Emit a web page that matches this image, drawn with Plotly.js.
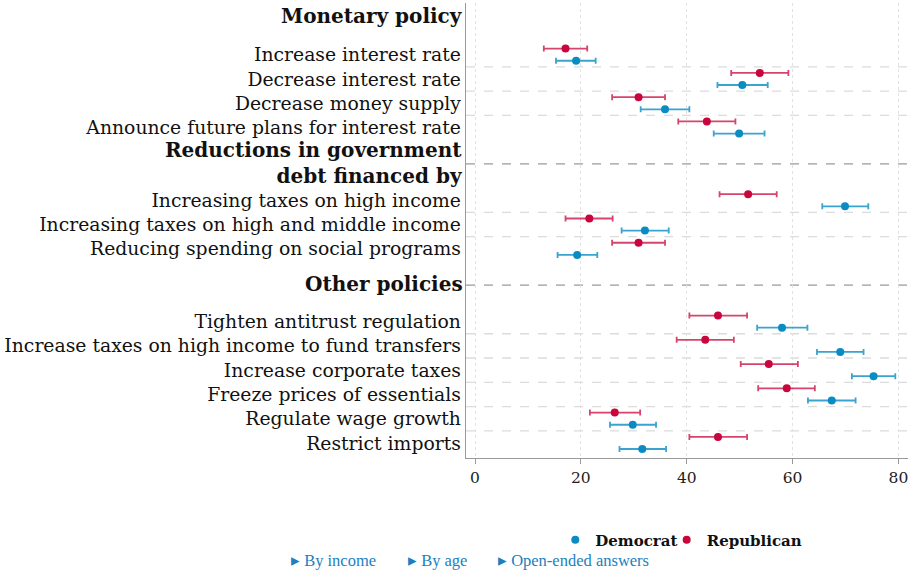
<!DOCTYPE html>
<html>
<head>
<meta charset="utf-8">
<script src="https://cdn.plot.ly/plotly-3.0.1.min.js"></script>
<style>
html,body{margin:0;padding:0;background:#fff;}
#chart{width:909px;height:571px;}
</style>
</head>
<body>
<div id="chart"></div>
<script>
// ---- data ----
const policyLabels = [
  "Increase interest rate",
  "Decrease interest rate",
  "Decrease money supply",
  "Announce future plans for interest rate",
  "Increasing taxes on high income",
  "Increasing taxes on high and middle income",
  "Reducing spending on social programs",
  "Tighten antitrust regulation",
  "Increase taxes on high income to fund transfers",
  "Increase corporate taxes",
  "Freeze prices of essentials",
  "Regulate wage growth",
  "Restrict imports"
];
const rowSlots = [0, 1, 2, 3, 6, 7, 8, 11, 12, 13, 14, 15, 16];

const sectionHeaders = ["Monetary policy", "Reductions in government<br>debt financed by", "Other policies"];
const sectionHeaderSlots = [-1.6, 4.47, 9.44];
const sectionBreaks = [4.5, 9.5];
const rowBreaks = [0.5, 1.5, 2.5, 6.5, 7.5, 11.5, 12.5, 13.5, 14.5, 15.5];

const demMean = [19.1, 50.5, 35.9, 49.9, 69.9, 32.1, 19.3, 58.0, 69.0, 75.3, 67.4, 29.8, 31.6];
const demLow  = [15.3, 45.8, 31.3, 45.1, 65.6, 27.7, 15.6, 53.3, 64.6, 71.2, 62.9, 25.5, 27.3];
const demHigh = [22.8, 55.3, 40.5, 54.7, 74.3, 36.6, 23.1, 62.8, 73.4, 79.4, 71.9, 34.2, 36.1];

const repMean = [17.1, 53.8, 30.9, 43.8, 51.6, 21.6, 30.9, 45.9, 43.5, 55.5, 58.9, 26.4, 45.9];
const repLow  = [13.0, 48.4, 25.9, 38.4, 46.2, 17.1, 25.9, 40.5, 38.1, 50.2, 53.5, 21.7, 40.5];
const repHigh = [21.2, 59.2, 35.9, 49.2, 57.0, 26.0, 35.9, 51.4, 48.9, 61.0, 64.2, 31.2, 51.4];

const xTicks = [0, 20, 40, 60, 80];
const linkTexts = ["▸ By income", "▸ By age", "▸ Open-ended answers"];

// ---- style ----
const DEM = "#0a8cc3", REP = "#c8053c";
const DEM_ERR = "rgba(10,140,195,0.8)", REP_ERR = "rgba(200,5,60,0.75)";
const OFF = 0.25;
const SERIF = "DejaVu Serif, serif";

function diff(a, b) { return a.map((v, i) => v - b[i]); }

const demTrace = {
  type: "scatter", mode: "markers", name: "<b>Democrat</b>", legend: "legend",
  x: demMean, y: rowSlots.map(s => s + OFF),
  marker: {color: DEM, size: 8},
  error_x: {type: "data", symmetric: false, array: diff(demHigh, demMean), arrayminus: diff(demMean, demLow),
            color: DEM_ERR, thickness: 1.8, width: 3},
  hoverinfo: "x"
};
const repTrace = {
  type: "scatter", mode: "markers", name: "<b>Republican</b>", legend: "legend2",
  x: repMean, y: rowSlots.map(s => s - OFF),
  marker: {color: REP, size: 8},
  error_x: {type: "data", symmetric: false, array: diff(repHigh, repMean), arrayminus: diff(repMean, repLow),
            color: REP_ERR, thickness: 1.8, width: 3},
  hoverinfo: "x"
};

const shapes = [];
rowBreaks.forEach(y => shapes.push({type: "line", xref: "paper", x0: 0, x1: 1, yref: "y", y0: y, y1: y,
  line: {color: "#dcdcdc", width: 1.3, dash: "dash"}, layer: "below"}));
sectionBreaks.forEach(y => shapes.push({type: "line", xref: "paper", x0: 0, x1: 1, yref: "y", y0: y, y1: y,
  line: {color: "#9a9a9a", width: 1.3, dash: "dash"}, layer: "below"}));

const annotations = [];
sectionHeaders.forEach((t, i) => annotations.push({
  text: "<b>" + t + "</b>", xref: "paper", x: 0, xanchor: "right", xshift: -1,
  yref: "y", y: sectionHeaderSlots[i], yanchor: "middle", align: "right",
  showarrow: false, font: {family: SERIF, size: 20, color: "#111"}
}));
const linkX = [-0.40, -0.135, 0.068];
linkTexts.forEach((t, i) => annotations.push({
  text: t, xref: "paper", x: linkX[i], xanchor: "left", yref: "paper", y: -0.226, yanchor: "middle",
  showarrow: false, font: {family: "Liberation Serif, serif", size: 16.5, color: "#1b7fc0"}
}));

const legendBase = {orientation: "h", xanchor: "left", y: -0.18, yanchor: "middle",
  font: {family: SERIF, size: 15, color: "#111"}, bgcolor: "rgba(0,0,0,0)"};

const layout = {
  width: 909, height: 571,
  margin: {l: 466, r: 1, t: 3, b: 113},
  paper_bgcolor: "#fff", plot_bgcolor: "#fff",
  showlegend: true,
  legend: Object.assign({}, legendBase, {x: 0.202}),
  legend2: Object.assign({}, legendBase, {x: 0.454}),
  xaxis: {range: [-1.7, 81.8], tickvals: xTicks, ticktext: xTicks.map(String),
          showgrid: true, gridcolor: "#e2e2e2", griddash: "dot", gridwidth: 1,
          zeroline: false, showline: true, linecolor: "#999", linewidth: 1.3,
          ticks: "outside", ticklen: 5, tickcolor: "#999",
          tickfont: {family: SERIF, size: 15.5, color: "#222"}},
  yaxis: {range: [16.62, -2.13], tickvals: rowSlots, ticktext: policyLabels,
          showgrid: false, zeroline: false, showline: true, linecolor: "#999", linewidth: 1.3,
          ticks: "", tickfont: {family: SERIF, size: 18.8, color: "#111"}},
  shapes: shapes,
  annotations: annotations
};

Plotly.newPlot("chart", [demTrace, repTrace], layout, {displayModeBar: false, staticPlot: true});
</script>
</body>
</html>
